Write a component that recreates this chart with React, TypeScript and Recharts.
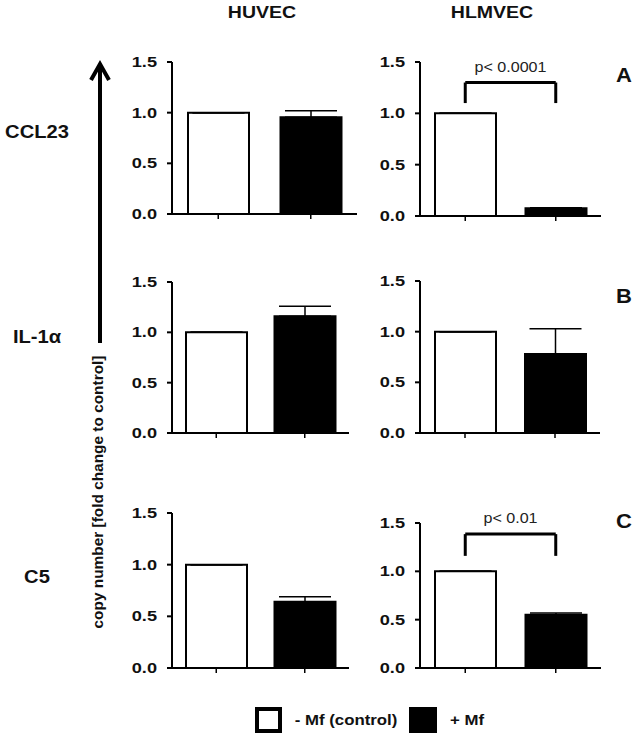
import React from "react"
import {
  BarChart,
  Bar,
  Cell,
  XAxis,
  YAxis,
  ErrorBar,
  ReferenceLine,
} from "recharts"

const genes = ["CCL23", "IL-1α", "C5"]
const panelLetters = ["A", "B", "C"]
const conditions = ["- Mf (control)", "+ Mf"]
const controlMean = [1, 1, 1]
const huvecMf = [0.955, 1.16, 0.64]
const huvecMfErr = [0.065, 0.1, 0.05]
const hlmvecMf = [0.075, 0.78, 0.55]
const hlmvecMfErr = [0.006, 0.25, 0.02]
const hlmvecP = ["p< 0.0001", "", "p< 0.01"]
const bracketTop = [1.3, 0, 1.385]
const bracketLeg = [1.1, 0, 1.16]
const yTicks = [0, 0.5, 1, 1.5]

const FONT = "'Liberation Sans', Arial, sans-serif"

type Row = { cond: string; value: number; err: [number, number] }

function rows(i: number, mf: number[], err: number[]): Row[] {
  return [
    { cond: conditions[0], value: controlMean[i], err: [0, 0] },
    { cond: conditions[1], value: mf[i], err: [0, err[i]] },
  ]
}

const YTick = (props: any) => {
  const { x, y, payload } = props
  return (
    <text
      x={0}
      y={0}
      transform={`translate(${x},${y}) scale(1.3,1)`}
      textAnchor="end"
      dy="0.36em"
      fontSize={14}
      fontWeight="bold"
      fontFamily={FONT}
      fill="#111"
    >
      {Number(payload.value).toFixed(1)}
    </text>
  )
}

const PLabel = (props: any) => {
  const { viewBox, value } = props
  const cx = viewBox.x + viewBox.width / 2
  const by = viewBox.y - 11
  return (
    <text
      x={0}
      y={0}
      transform={`translate(${cx},${by}) scale(1.15,1)`}
      textAnchor="middle"
      fontSize={14}
      fontFamily={FONT}
      fill="#222"
    >
      {value}
    </text>
  )
}

const YW = 50
const MT = 30
const MR = 10
const XH = 10

function Panel({
  data,
  x,
  y,
  w,
  h,
  p,
  top,
  leg,
}: {
  data: Row[]
  x: number
  y: number
  w: number
  h: number
  p?: string
  top?: number
  leg?: number
}) {
  return (
    <div style={{ position: "absolute", left: x - YW, top: y - MT }}>
      <BarChart
        width={YW + w + MR}
        height={MT + h + XH}
        data={data}
        margin={{ top: MT, right: MR, left: 0, bottom: 0 }}
      >
        <XAxis
          dataKey="cond"
          height={XH}
          tickFormatter={() => ""}
          axisLine={{ stroke: "#000", strokeWidth: 2 }}
          tickLine={{ stroke: "#000", strokeWidth: 1.5 }}
          tickSize={5}
        />
        <YAxis
          width={YW}
          domain={[0, 1.5]}
          ticks={yTicks}
          interval={0}
          tick={<YTick />}
          tickSize={5}
          tickMargin={10}
          axisLine={{ stroke: "#000", strokeWidth: 2 }}
          tickLine={{ stroke: "#000", strokeWidth: 2 }}
        />
        <Bar dataKey="value" barSize={61} isAnimationActive={false}>
          {data.map((d, i) => (
            <Cell
              key={d.cond}
              fill={i === 0 ? "#fff" : "#000"}
              stroke="#000"
              strokeWidth={2}
            />
          ))}
          <ErrorBar
            dataKey="err"
            width={26}
            stroke="#000"
            strokeWidth={1.5}
            direction="y"
          />
        </Bar>
        {p && top && leg ? (
          <>
            <ReferenceLine
              segment={[
                { x: conditions[0], y: top },
                { x: conditions[1], y: top },
              ]}
              stroke="#000"
              strokeWidth={3}
              label={<PLabel value={p} />}
            />
            <ReferenceLine
              segment={[
                { x: conditions[0], y: top },
                { x: conditions[0], y: leg },
              ]}
              stroke="#000"
              strokeWidth={3}
            />
            <ReferenceLine
              segment={[
                { x: conditions[1], y: top },
                { x: conditions[1], y: leg },
              ]}
              stroke="#000"
              strokeWidth={3}
            />
          </>
        ) : null}
      </BarChart>
    </div>
  )
}

function Lbl({
  cx,
  cy,
  size,
  sx = 1.15,
  bold = true,
  children,
}: {
  cx: number
  cy: number
  size: number
  sx?: number
  bold?: boolean
  children: React.ReactNode
}) {
  return (
    <div
      style={{
        position: "absolute",
        left: cx,
        top: cy,
        transform: `translate(-50%, -50%) scaleX(${sx})`,
        fontFamily: FONT,
        fontSize: size,
        fontWeight: bold ? "bold" : "normal",
        color: "#111",
        whiteSpace: "nowrap",
        lineHeight: 1,
      }}
    >
      {children}
    </div>
  )
}

const leftPanels = [
  { x: 172, y: 62, w: 185, h: 152 },
  { x: 172, y: 282, w: 177, h: 151 },
  { x: 172, y: 513, w: 177, h: 155 },
]
const rightPanels = [
  { x: 420, y: 62, w: 181, h: 154 },
  { x: 420, y: 281, w: 180, h: 152 },
  { x: 420, y: 523, w: 181, h: 145 },
]
const rowY = [132, 337, 577]
const letterY = [75, 296, 521]

export default function App() {
  return (
    <div
      style={{
        position: "absolute",
        left: 0,
        top: 0,
        width: 638,
        height: 739,
        background: "#fff",
        overflow: "hidden",
      }}
    >
      <Lbl cx={262} cy={13} size={16} sx={1.22}>
        HUVEC
      </Lbl>
      <Lbl cx={492} cy={13} size={16} sx={1.22}>
        HLMVEC
      </Lbl>

      {genes.map((g, i) => (
        <Lbl key={g} cx={37} cy={rowY[i]} size={18} sx={1.12}>
          {g}
        </Lbl>
      ))}
      {panelLetters.map((l, i) => (
        <Lbl key={l} cx={624} cy={letterY[i]} size={20} sx={1.1}>
          {l}
        </Lbl>
      ))}

      {/* arrow */}
      <svg
        style={{ position: "absolute", left: 85, top: 55 }}
        width={30}
        height={295}
      >
        <line x1={15} y1={10} x2={15} y2={288} stroke="#000" strokeWidth={4} />
        <polyline
          points="6,25 15,9 24,25"
          fill="none"
          stroke="#000"
          strokeWidth={4}
        />
      </svg>
      <div
        style={{
          position: "absolute",
          left: 98,
          top: 492,
          transform: "translate(-50%, -50%) rotate(-90deg) scaleX(1.1)",
          fontFamily: FONT,
          fontSize: 14,
          fontWeight: "bold",
          color: "#111",
          whiteSpace: "nowrap",
          lineHeight: 1,
        }}
      >
        copy number [fold change to control]
      </div>

      {leftPanels.map((p, i) => (
        <Panel key={"l" + i} data={rows(i, huvecMf, huvecMfErr)} {...p} />
      ))}
      {rightPanels.map((p, i) => (
        <Panel
          key={"r" + i}
          data={rows(i, hlmvecMf, hlmvecMfErr)}
          {...p}
          p={hlmvecP[i]}
          top={bracketTop[i]}
          leg={bracketLeg[i]}
        />
      ))}

      {/* legend */}
      <div
        style={{
          position: "absolute",
          left: 255,
          top: 707,
          width: 27,
          height: 26,
          border: "4px solid #000",
          boxSizing: "border-box",
          background: "#fff",
        }}
      />
      <Lbl cx={346} cy={719} size={15} sx={1.12}>
        {conditions[0]}
      </Lbl>
      <div
        style={{
          position: "absolute",
          left: 409,
          top: 707,
          width: 28,
          height: 26,
          background: "#000",
        }}
      />
      <Lbl cx={467} cy={719} size={15} sx={1.12}>
        {conditions[1]}
      </Lbl>
    </div>
  )
}
